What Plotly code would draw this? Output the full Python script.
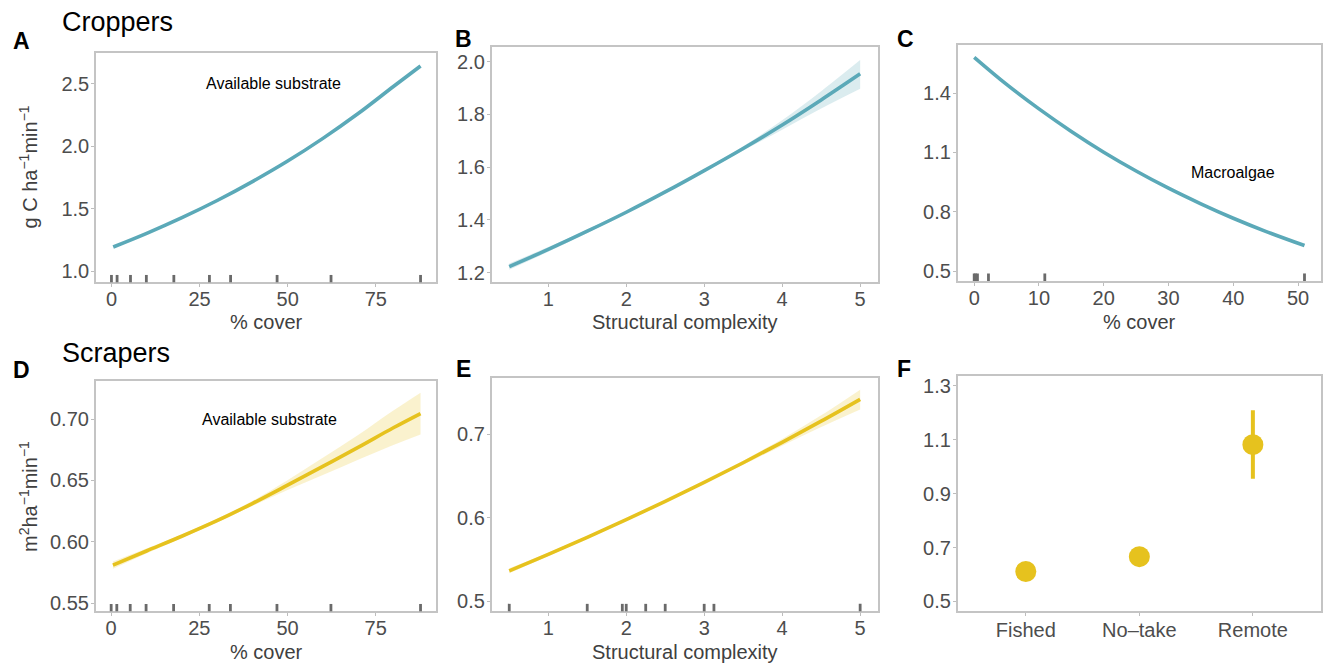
import plotly.graph_objects as go

# ---------------- data ----------------
# Panel A / D: available substrate (% cover)
sub_x = [0.5, 10, 20, 30, 40, 50, 60, 70, 80, 87.7]
crop_sub_y = [1.195, 1.304, 1.429, 1.566, 1.717, 1.881, 2.062, 2.26, 2.476, 2.64]
scr_sub_y = [0.581, 0.5925, 0.6045, 0.6172, 0.6312, 0.6462, 0.6615, 0.677, 0.693, 0.7046]
scr_sub_lo = [0.578, 0.5905, 0.603, 0.6157, 0.6292, 0.6422, 0.6545, 0.667, 0.679, 0.6876]
scr_sub_hi = [0.584, 0.5945, 0.606, 0.6187, 0.6332, 0.6502, 0.6685, 0.687, 0.707, 0.7216]
sub_rug = [0, 1.6, 5.4, 9.9, 17.7, 27.8, 33.8, 47.0, 62.3, 87.7]

# Panel B / E: structural complexity
cx_x = [0.5, 1, 1.5, 2, 2.5, 3, 3.5, 4, 4.5, 5]
crop_cx_y = [1.223, 1.288, 1.357, 1.429, 1.506, 1.587, 1.671, 1.760, 1.855, 1.954]
crop_cx_lo = [1.211, 1.279, 1.350, 1.424, 1.502, 1.583, 1.663, 1.742, 1.822, 1.897]
crop_cx_hi = [1.235, 1.297, 1.364, 1.434, 1.510, 1.591, 1.679, 1.778, 1.888, 2.006]
scr_cx_y = [0.5365, 0.5562, 0.5766, 0.5978, 0.6197, 0.6425, 0.666, 0.6905, 0.7158, 0.742]
scr_cx_lo = [0.5335, 0.5542, 0.5751, 0.5966, 0.6187, 0.6413, 0.6635, 0.6865, 0.7088, 0.7298]
scr_cx_hi = [0.5395, 0.5582, 0.5781, 0.5990, 0.6207, 0.6437, 0.6685, 0.6945, 0.7228, 0.7536]
cx_rug = [0.5, 1.5, 1.95, 2.0, 2.25, 2.5, 3.0, 3.125, 5.0]

# Panel C: macroalgae (% cover)
mac_x = [0, 5, 10, 15, 20, 25, 30, 35, 40, 45, 51]
crop_mac_y = [1.581, 1.444, 1.320, 1.206, 1.101, 1.006, 0.919, 0.840, 0.767, 0.701, 0.629]
mac_rug = [0, 0.2, 0.5, 2.2, 10.9, 51]

# Panel F: management
mgmt = ["Fished", "No\u2013take", "Remote"]
mgmt_y = [0.611, 0.666, 1.082]
mgmt_lo = [0.597, 0.650, 0.955]
mgmt_hi = [0.625, 0.682, 1.21]

TEAL = "#5BA9B8"
TEAL_F = "rgba(91,169,184,0.22)"
YEL = "#E6C21E"
YEL_F = "rgba(230,194,30,0.22)"
FONT = "Liberation Sans, Arial, Helvetica, sans-serif"
W, H = 1328, 668

fig = go.Figure()

def px_dom_x(a, b):
    return [a / W, b / W]

def px_dom_y(top, bot):
    return [1 - bot / H, 1 - top / H]

panels = {
    1: dict(x=px_dom_x(96, 436), y=px_dom_y(52, 283)),
    2: dict(x=px_dom_x(491.7, 877.7), y=px_dom_y(46.7, 282.7)),
    3: dict(x=px_dom_x(957.7, 1321), y=px_dom_y(44.3, 281.7)),
    4: dict(x=px_dom_x(95.7, 436), y=px_dom_y(382.7, 614)),
    5: dict(x=px_dom_x(491.7, 877.7), y=px_dom_y(379.3, 614)),
    6: dict(x=px_dom_x(957.7, 1321), y=px_dom_y(377, 614)),
}

def ax(i):
    return ("x" if i == 1 else f"x{i}"), ("y" if i == 1 else f"y{i}")

def add_line(i, x, y, color, lo=None, hi=None, fillc=None):
    xa, ya = ax(i)
    if lo is not None:
        fig.add_trace(go.Scatter(x=x, y=lo, mode="lines", line=dict(width=0, shape="spline"),
                                 xaxis=xa, yaxis=ya, showlegend=False, hoverinfo="skip"))
        fig.add_trace(go.Scatter(x=x, y=hi, mode="lines", line=dict(width=0, shape="spline"),
                                 fill="tonexty", fillcolor=fillc,
                                 xaxis=xa, yaxis=ya, showlegend=False, hoverinfo="skip"))
    fig.add_trace(go.Scatter(x=x, y=y, mode="lines", line=dict(color=color, width=3.6, shape="spline"),
                             xaxis=xa, yaxis=ya, showlegend=False))

add_line(1, sub_x, crop_sub_y, TEAL)
add_line(2, cx_x, crop_cx_y, TEAL, crop_cx_lo, crop_cx_hi, TEAL_F)
add_line(3, mac_x, crop_mac_y, TEAL)
add_line(4, sub_x, scr_sub_y, YEL, scr_sub_lo, scr_sub_hi, YEL_F)
add_line(5, cx_x, scr_cx_y, YEL, scr_cx_lo, scr_cx_hi, YEL_F)

# Panel F
fig.add_trace(go.Scatter(
    x=[1, 2, 3], y=mgmt_y, mode="markers",
    marker=dict(color=YEL, size=21),
    error_y=dict(type="data", symmetric=False,
                 array=[h - m for h, m in zip(mgmt_hi, mgmt_y)],
                 arrayminus=[m - l for m, l in zip(mgmt_y, mgmt_lo)],
                 color=YEL, thickness=4, width=0),
    xaxis="x6", yaxis="y6", showlegend=False))

# rugs
shapes = []
for i, vals in [(1, sub_rug), (3, mac_rug), (4, sub_rug), (5, cx_rug)]:
    xa, ya = ax(i)
    for v in vals:
        shapes.append(dict(type="line", xref=xa, yref=f"{ya} domain", x0=v, x1=v, y0=0, y1=0.032,
                           line=dict(color="#6a6a6a", width=2.8), layer="above"))

common_axis = dict(showline=True, mirror=True, linecolor="#c4c4c4", linewidth=1.6,
                   showgrid=False, zeroline=False, ticks="outside", ticklen=3,
                   tickcolor="#bdbdbd", tickwidth=1,
                   tickfont=dict(family=FONT, size=20, color="#4d4d4d"))

sub_xr = [-4.385, 92.085]
cx_xr = [0.275, 5.225]
axes_cfg = {
    1: dict(xr=sub_xr, xt=[0, 25, 50, 75], yr=[0.913, 2.746], yt=[1.0, 1.5, 2.0, 2.5], yf=".1f"),
    2: dict(xr=cx_xr, xt=[1, 2, 3, 4, 5], yr=[1.1645, 2.054], yt=[1.2, 1.4, 1.6, 1.8, 2.0], yf=".1f"),
    3: dict(xr=[-2.55, 53.55], xt=[0, 10, 20, 30, 40, 50], yr=[0.4497, 1.643], yt=[0.5, 0.8, 1.1, 1.4], yf=".1f"),
    4: dict(xr=sub_xr, xt=[0, 25, 50, 75], yr=[0.5433, 0.7308], yt=[0.55, 0.60, 0.65, 0.70], yf=".2f"),
    5: dict(xr=cx_xr, xt=[1, 2, 3, 4, 5], yr=[0.488, 0.7675], yt=[0.5, 0.6, 0.7], yf=".1f"),
    6: dict(xr=[0.4, 3.6], xt=[1, 2, 3], yr=[0.463, 1.338], yt=[0.5, 0.7, 0.9, 1.1, 1.3], yf=".1f"),
}

layout = dict(width=W, height=H, margin=dict(l=0, r=0, t=0, b=0),
              paper_bgcolor="white", plot_bgcolor="white", shapes=shapes,
              font=dict(family=FONT))
for i, c in axes_cfg.items():
    xa, ya = ax(i)
    xkey = "xaxis" if i == 1 else f"xaxis{i}"
    ykey = "yaxis" if i == 1 else f"yaxis{i}"
    xd = dict(common_axis, domain=panels[i]["x"], range=c["xr"], tickvals=c["xt"], anchor=ya,
              ticklabelstandoff=-5)
    if i == 6:
        xd["ticktext"] = mgmt
        xd["ticklabelstandoff"] = -3
    layout[xkey] = xd
    layout[ykey] = dict(common_axis, domain=panels[i]["y"], range=c["yr"], tickvals=c["yt"],
                        tickformat=c["yf"], anchor=xa, ticklabelstandoff=-2)

fig.update_layout(**layout)

ann = []
def txt(x, y, s, size, color="#000", bold=False, xref="paper", yref="paper", angle=0, xanchor="center"):
    if bold:
        s = f"<b>{s}</b>"
    ann.append(dict(x=x, y=y, xref=xref, yref=yref, text=s, showarrow=False, textangle=angle,
                    xanchor=xanchor, yanchor="middle",
                    font=dict(family=FONT, size=size, color=color)))

def P(xpx, ypx):
    return xpx / W, 1 - ypx / H

# panel letters and group titles
for lab, (xp, yp) in {"A": (21, 40), "B": (463, 38), "C": (905, 38),
                      "D": (21, 371), "E": (463, 370), "F": (904, 370)}.items():
    x, y = P(xp, yp)
    txt(x, y, lab, 23, bold=True)
x, y = P(60, 21); txt(x, y, "Croppers", 27, xanchor="left")
x, y = P(60, 354); txt(x, y, "Scrapers", 27, xanchor="left")

# axis titles
for xp, yp, s in [(266, 323, "% cover"), (685, 323, "Structural complexity"), (1139, 323, "% cover"),
                  (266, 655, "% cover"), (685, 655, "Structural complexity")]:
    x, y = P(xp, yp)
    txt(x, y, s, 20, color="#404040")
x, y = P(28, 167.5); txt(x, y, "g C ha<sup>\u22121</sup>min<sup>\u22121</sup>", 20, color="#404040", angle=-90)
x, y = P(28, 498); txt(x, y, "m<sup>2</sup>ha<sup>\u22121</sup>min<sup>\u22121</sup>", 20, color="#404040", angle=-90)

# in-panel labels
txt(46, 2.5, "Available substrate", 16, xref="x", yref="y")
txt(40, 1.0, "Macroalgae", 16, xref="x3", yref="y3")
txt(45, 0.70, "Available substrate", 16, xref="x4", yref="y4")

fig.update_layout(annotations=ann)
fig.write_html("out.html", config={"displayModeBar": False},
               post_script="document.body.style.margin='0';document.body.style.overflow='hidden';")
